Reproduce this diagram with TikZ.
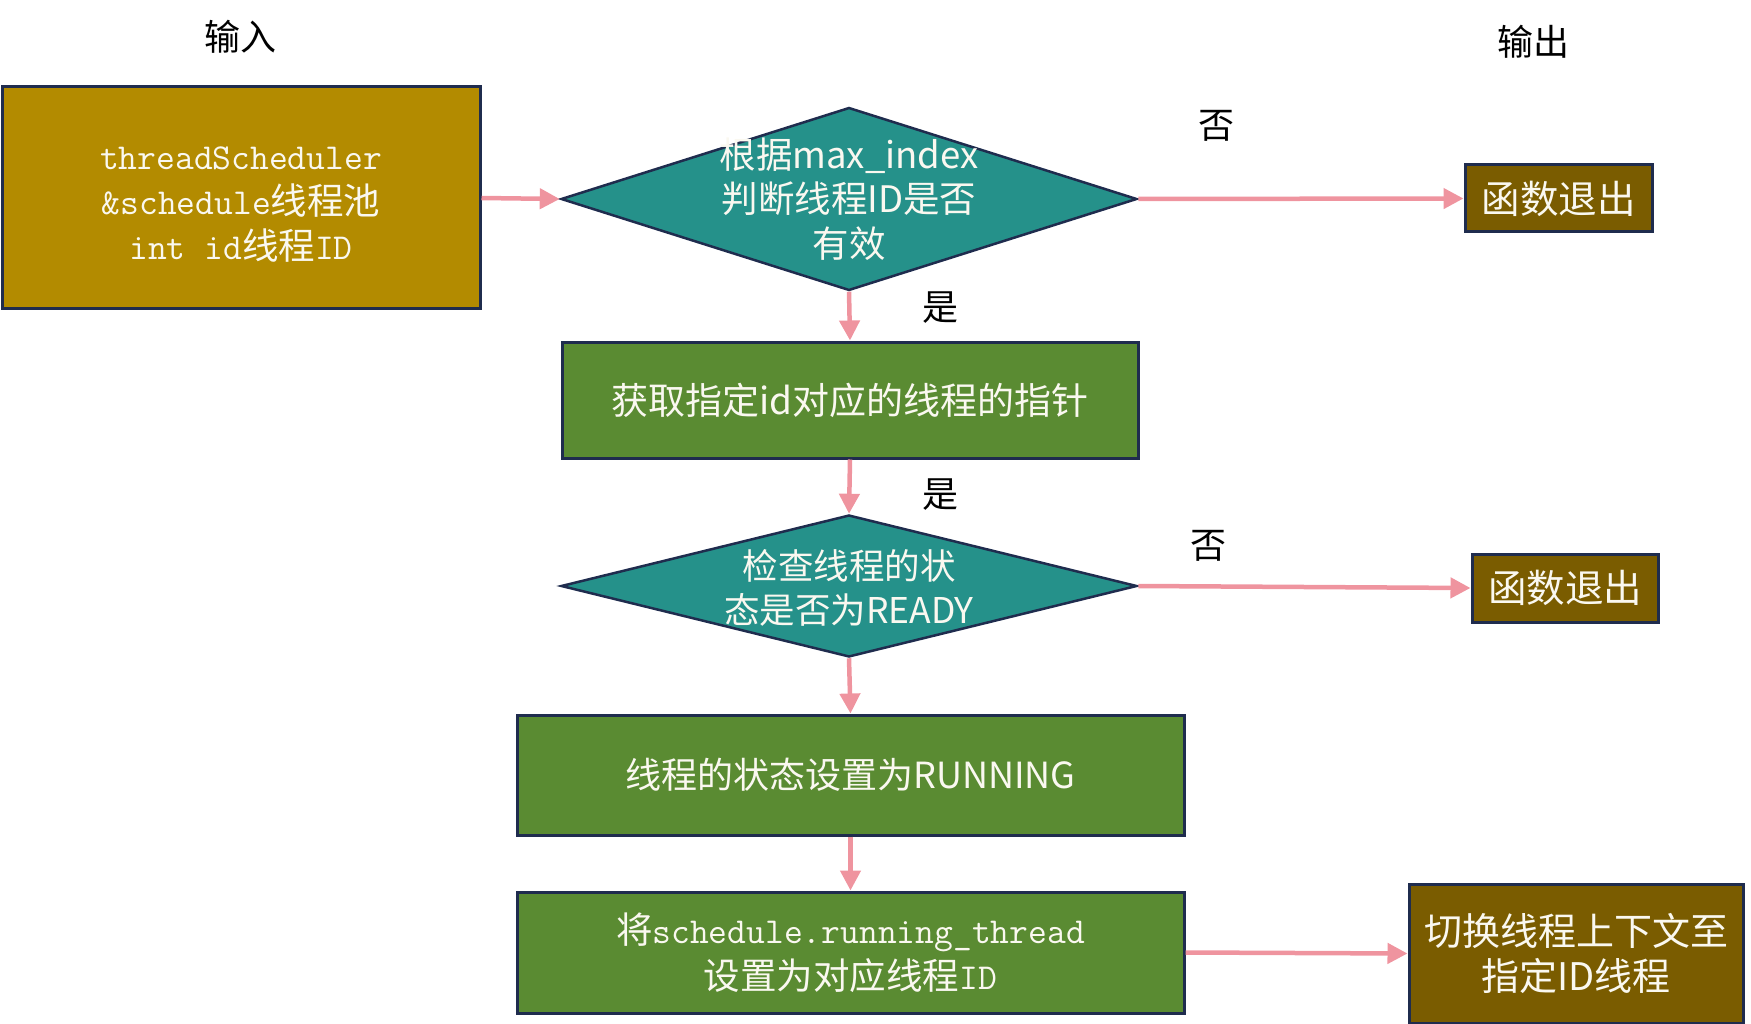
\documentclass[tikz,border=0pt]{standalone}
\usepackage{fontspec}
\setmainfont{Noto Sans CJK SC}
\usetikzlibrary{shapes.geometric,arrows.meta}
\definecolor{edge}{HTML}{1F2C4E}
\definecolor{inbox}{HTML}{B38B00}
\definecolor{teal}{HTML}{25918A}
\definecolor{grn}{HTML}{5A8B32}
\definecolor{olive}{HTML}{7A5C00}
\definecolor{pinkarrow}{HTML}{EF949F}
\definecolor{txtw}{HTML}{FAF8F0}
\tikzset{
  box/.style={rectangle,draw=edge,line width=3pt,inner sep=0pt,align=center,text=txtw},
  dia/.style={diamond,draw=edge,line width=2.5pt,fill=teal,inner sep=0pt},
  diatext/.style={align=center,text=txtw,inner sep=0pt},
  lbl/.style={text=black,inner sep=0pt,font=\fontsize{36}{40}\selectfont},
  flow/.style={draw=pinkarrow,line width=4.5pt,-{Triangle[length=20pt,width=20pt]}},
}
\begin{document}
\begin{tikzpicture}[x=1pt,y=-1pt]
\useasboundingbox (0,0) rectangle (1751,1024);

\node[lbl] (tin) at (240,37) {输入};
\node[lbl] (tout) at (1533,42) {输出};

\node[box,fill=inbox,minimum width=478pt,minimum height=222pt] (in) at (241,198) {};
\node[diatext,font=\fontsize{36.5}{45}\selectfont] (intext) at (241,205)
  {{\ttfamily threadScheduler}\\{\ttfamily\&schedule}线程池\\{\ttfamily int id}线程{\ttfamily ID}};

\node[dia,minimum width=576pt,minimum height=183pt] (d1) at (849,199) {};
\node[diatext,font=\fontsize{36.5}{44.5}\selectfont] (d1t) at (849,199) {根据max\_index\\判断线程ID是否\\有效};

\node[box,fill=olive,minimum width=187pt,minimum height=67pt,font=\fontsize{38.5}{44}\selectfont] (e1) at (1558.5,198.5) {函数退出};

\node[box,fill=grn,minimum width=576pt,minimum height=116pt,font=\fontsize{37}{44}\selectfont] (b2) at (850,400) {获取指定id对应的线程的指针};

\node[dia,minimum width=576pt,minimum height=142pt] (d2) at (849,586) {};
\node[diatext,font=\fontsize{35.5}{43.5}\selectfont] (d2t) at (849,588) {检查线程的状\\态是否为READY};

\node[box,fill=olive,minimum width=186pt,minimum height=68pt,font=\fontsize{38.5}{44}\selectfont] (e2) at (1565,588) {函数退出};

\node[box,fill=grn,minimum width=667pt,minimum height=120pt,font=\fontsize{36}{44}\selectfont] (b3) at (850.5,775) {线程的状态设置为RUNNING};

\node[box,fill=grn,minimum width=667pt,minimum height=121pt,font=\fontsize{36.5}{46}\selectfont] (b4) at (850.5,952.5)
  {将{\ttfamily schedule.running\_thread}\\设置为对应线程{\ttfamily ID}};

\node[box,fill=olive,minimum width=334pt,minimum height=139pt,font=\fontsize{38}{44.5}\selectfont] (f) at (1576,953.5) {切换线程上下文至\\指定ID线程};

\node[lbl] (no1) at (1216,126) {否};
\node[lbl] (yes1) at (940,308) {是};
\node[lbl] (yes2) at (940,495) {是};
\node[lbl] (no2) at (1208,546) {否};

\draw[flow] (in.east) -- (d1.west);
\draw[flow] (d1.east) -- (e1.west);
\draw[flow] (d1.south) -- (b2.north);
\draw[flow] (b2.south) -- (d2.north);
\draw[flow] (d2.east) -- (e2.west);
\draw[flow] (d2.south) -- (b3.north);
\draw[flow] (b3.south) -- (b4.north);
\draw[flow] (b4.east) -- (f.west);
\end{tikzpicture}
\end{document}
